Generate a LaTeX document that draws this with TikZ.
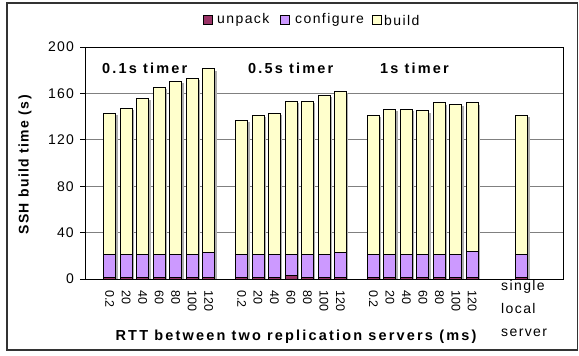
\documentclass[tikz,border=0pt]{standalone}
\usepackage{fontspec}
\setmainfont{Liberation Sans}
\newfontfamily\spaced{Liberation Sans}[LetterSpace=10]
\newfontfamily\spacedt{Liberation Sans}[LetterSpace=8]
\newfontfamily\spacedb{Liberation Sans}[LetterSpace=15]
\definecolor{unpackc}{HTML}{993366}
\definecolor{confc}{HTML}{CC99FF}
\definecolor{buildc}{HTML}{FFFFCC}
\begin{document}
\begin{tikzpicture}[x=1pt,y=-1pt,
  lbl/.style={font=\spaced\fontsize{14}{16}\selectfont, inner sep=0pt},
  ytk/.style={font=\spacedt\fontsize{14}{16}\selectfont, inner sep=0pt, anchor=east},
  ttl/.style={font=\spacedb\bfseries\fontsize{14.5}{16}\selectfont, inner sep=0pt},
  xtick/.style={font=\fontsize{12.5}{14}\selectfont, inner sep=0pt, rotate=-90, anchor=west},
  bar/.style={draw=black, line width=0.8pt},
  shadowbar/.style={fill=black!32},
  gridline/.style={draw=black!50, line width=0.9pt},
  key/.style={draw=black, line width=0.8pt, minimum size=8.5pt, inner sep=0pt}]
\useasboundingbox (0,0) rectangle (579,356);
% outer chart frame
\draw[line width=1.5pt, draw=black!80] (7,3) rectangle (577.5,350);

% legend
\node[key, fill=unpackc] (k1) at (208,20) {};
\node[lbl, anchor=west] (t1) at (217,20) {unpack};
\node[key, fill=confc] (k2) at (285,20) {};
\node[lbl, anchor=west] (t2) at (295,20) {configure};
\node[key, fill=buildc] (k3) at (377,20) {};
\node[lbl, anchor=west] (t3) at (384,20) {build};

% grid and value axis
\foreach \v in {40,80,120,160}
  \draw[gridline] (85,279-1.16*\v) -- (563,279-1.16*\v);
\foreach \v in {0,40,...,200}{
  \draw[line width=0.9pt] (80,279-1.16*\v) -- (85,279-1.16*\v);
  \node[ytk] (y\v) at (74,279-1.16*\v) {\v};
}

% stacked bars: category index / total / configure top / unpack top
\begin{scope}[shift={(0,279)}, y=1.16pt]
\foreach \i/\tot/\cf/\up in {
   1/142.8/21.5/1.2, 2/147.2/21.5/1.2, 3/155.8/21.5/1.2, 4/165.3/21.5/1.2,
   5/170.7/21.5/1.2, 6/173.3/21.5/1.2, 7/181.3/23/1.2,
   9/137/21.5/1.2, 10/141.4/21.5/1.2, 11/142.8/21.5/1.2, 12/153/21.5/3,
   13/153/21.5/1.2, 14/158.6/21.5/1.2, 15/162.1/23/1.2,
   17/141.4/21.5/1.2, 18/146.3/21.5/1.2, 19/146.3/21.5/1.2, 20/145.1/21.5/1.2,
   21/152/21.5/1.2, 22/150.6/21.5/1.2, 23/152/23.5/1.2,
   26/141.4/21.5/1.2}{
  \pgfmathsetmacro\bl{87.2+16.48*\i}
  \pgfmathsetmacro\br{\bl+12}
  \fill[shadowbar] (\bl+2,0) rectangle (\br+2,\tot-1.7);
  \filldraw[bar, fill=unpackc] (\bl,0) rectangle (\br,\up);
  \filldraw[bar, fill=confc] (\bl,\up) rectangle (\br,\cf);
  \filldraw[bar, fill=buildc] (\bl,\cf) rectangle (\br,\tot);
}
\end{scope}

% plot area border
\draw[line width=0.9pt] (85,47) rectangle (563,279);

% category labels
\foreach \g/\s in {0/1, 1/9, 2/17}{
  \foreach \lab [count=\k from 0] in {0.2,20,40,60,80,100,120}{
    \node[xtick] (x\g-\k) at ({85+16.48*(\s+\k+0.5)},290) {\lab};
  }
}
\node[lbl, anchor=north west, align=left, font=\spaced\fontsize{14}{23}\selectfont]
  (single) at (501,280) {single\\local\\server};

% group titles
\node[ttl, anchor=west] (g1) at (102,68) {0.1s timer};
\node[ttl, anchor=west] (g2) at (248,68) {0.5s timer};
\node[ttl, anchor=west] (g3) at (380,68) {1s timer};

% axis titles
\node[ttl] (xt) at (296,337) {RTT between two replication servers (ms)};
\node[ttl, rotate=90, font=\spaced\bfseries\fontsize{14}{16}\selectfont] (yt) at (25,165) {SSH build time (s)};
\end{tikzpicture}
\end{document}
